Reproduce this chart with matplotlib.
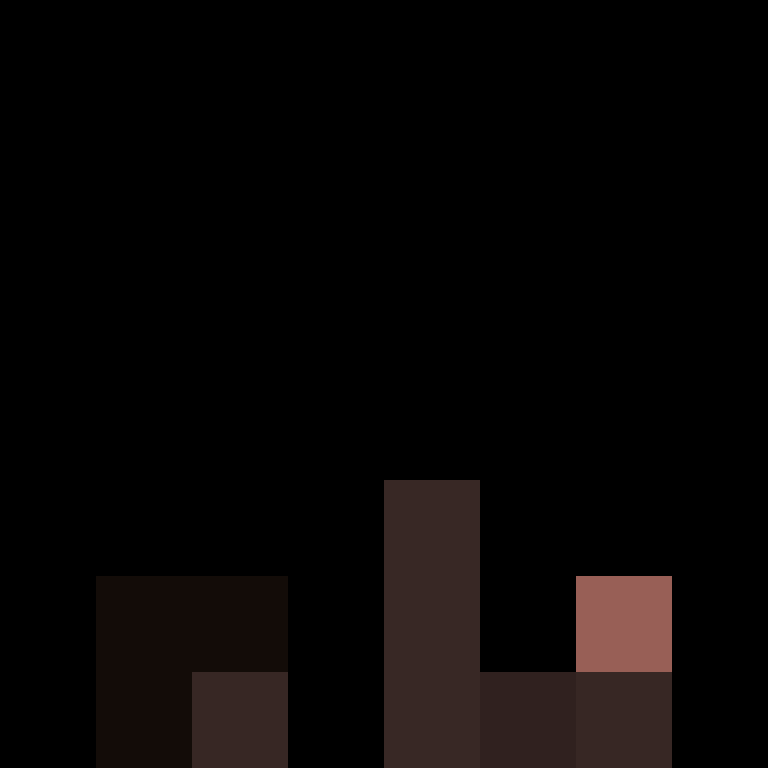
import numpy as np
import matplotlib
matplotlib.use('Agg')
import matplotlib.pyplot as plt
from matplotlib.colors import LinearSegmentedColormap

# 8x8 grid of cell values (row 0 = top)
row0 = [0, 0, 0, 0, 0, 0, 0, 0]
row1 = [0, 0, 0, 0, 0, 0, 0, 0]
row2 = [0, 0, 0, 0, 0, 0, 0, 0]
row3 = [0, 0, 0, 0, 0, 0, 0, 0]
row4 = [0, 0, 0, 0, 0, 0, 0, 0]
row5 = [0, 0, 0, 0, 3.65, 0, 0, 0]
row6 = [0, 1.3, 1.3, 0, 3.65, 0, 9.8, 0]
row7 = [0, 1.3, 3.6, 0, 3.65, 3.3, 3.6, 0]

grid = np.array([row0, row1, row2, row3, row4, row5, row6, row7])

cmap = LinearSegmentedColormap.from_list('brown', [
    (0.0, '#000000'),
    (0.13, '#140d09'),
    (0.33, '#312220'),
    (0.37, '#3a2926'),
    (0.98, '#985f56'),
    (1.0, '#985f56'),
])

fig = plt.figure(figsize=(7.68, 7.68), dpi=100)
fig.patch.set_facecolor('black')
ax = fig.add_axes([0, 0, 1, 1])
ax.imshow(grid, cmap=cmap, vmin=0, vmax=10, interpolation='nearest', aspect='auto')
ax.set_axis_off()
fig.savefig('out.png', dpi=100, facecolor='black')
